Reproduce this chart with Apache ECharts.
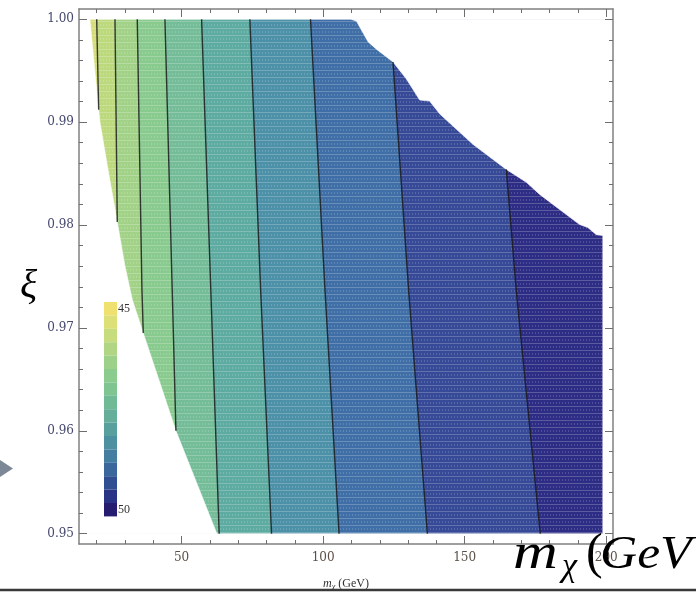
<!DOCTYPE html>
<html>
<head>
<meta charset="utf-8">
<title>xi vs m_chi</title>
<script src="https://cdn.jsdelivr.net/npm/echarts@6.0.0/dist/echarts.min.js"></script>
<style>
  html, body { margin: 0; padding: 0; background: #fff; }
  #chart { width: 696px; height: 593px; }
</style>
</head>
<body>
<div id="chart"></div>
<script>
// axis ranges and ticks (Mathematica frame, ticks on all four sides)
const xRange = [13.75, 202.4]
const yRange = [0.949, 1.001]
const xMajorTicks = [50, 100, 150, 200]
const xMinorTicks = [20, 30, 40, 60, 70, 80, 90, 110, 120, 130, 140, 160, 170, 180, 190]
const yMajorTicks = [0.95, 0.96, 0.97, 0.98, 0.99, 1.0]
const yMinorTicks = [0.952, 0.954, 0.956, 0.958, 0.962, 0.964, 0.966, 0.968, 0.972, 0.974,
  0.976, 0.978, 0.982, 0.984, 0.986, 0.988, 0.992, 0.994, 0.996, 0.998]

// edge of the computed region, [m, xi]
const topXi = 1.0
const bottomXi = 0.95
const leftEdge = [[17.6, 1.0], [19.15, 0.9955], [21.16, 0.99], [23.74, 0.9858], [27.27, 0.9803],
  [29.99, 0.976], [32.63, 0.9727], [36.45, 0.9695], [47.99, 0.96], [62.46, 0.95]]
const topRightEdge = [[110.0, 1.0], [111.8, 0.9998], [115.9, 0.9978], [118.8, 0.9971], [124.7, 0.99585],
  [129.4, 0.9942], [134.1, 0.99215], [137.6, 0.99205], [141.2, 0.9908], [152.9, 0.98785],
  [164.7, 0.98541], [171.8, 0.98415], [176.5, 0.98298], [181.2, 0.982], [190.6, 0.98005],
  [193.5, 0.97976], [196.5, 0.97907], [198.8, 0.97898]]

// contour lines, left to right
const contours = [
  [[20.0, 1.0], [20.7, 0.9912]],
  [[26.46, 1.0], [27.27, 0.9803]],
  [[34.33, 1.0], [35.99, 0.9737], [36.45, 0.9695]],
  [[44.11, 1.0], [46.68, 0.9737], [47.99, 0.96]],
  [[57.06, 1.0], [60.31, 0.9737], [63.27, 0.95]],
  [[74.11, 1.0], [77.92, 0.9737], [81.77, 0.95]],
  [[95.53, 1.0], [100.65, 0.9737], [105.62, 0.95]],
  [[124.68, 0.99585], [130.19, 0.9737], [136.83, 0.95]],
  [[164.71, 0.98541], [168.2, 0.9737], [176.71, 0.95]],
]
const bandColors = ['#d6dc78', '#bdd97e', '#a2d287', '#89ca8f', '#74bd98',
  '#5eaba1', '#4d91a9', '#3f6fa6', '#364a98', '#2e2d86']

// legend bar
const legendRange = [45, 50]
const legendColors = ['#efe070', '#dce076', '#c7dc7c', '#b1d683', '#9dd089', '#8ccb8e', '#7ec592', '#70bb96',
  '#64ae9a', '#58a09e', '#4d90a0', '#447ea0', '#3a689c', '#304e92', '#2a3486', '#261c70']

const chart = echarts.init(document.getElementById('chart'))

// each band covers everything right of its contour; later bands paint over earlier ones
const bands = [[[xRange[0], yRange[0]], [xRange[0], yRange[1]], [xRange[1], yRange[1]], [xRange[1], yRange[0]]]]
contours.forEach((c) => {
  const first = c[0]
  const last = c[c.length - 1]
  bands.push([[first[0], yRange[1]], ...c, [last[0], yRange[0]], [xRange[1], yRange[0]], [xRange[1], yRange[1]]])
})

// white masks outside the computed region
const lastRight = topRightEdge[topRightEdge.length - 1]
const masks = [
  [[xRange[0], topXi], [xRange[0], yRange[1]], [xRange[1], yRange[1]], [xRange[1], topXi]],
  [[xRange[0], yRange[0]], [xRange[0], bottomXi], [xRange[1], bottomXi], [xRange[1], yRange[0]]],
  [[xRange[0], topXi], ...leftEdge, [xRange[0], bottomXi]],
  [...topRightEdge, [lastRight[0], bottomXi], [xRange[1], bottomXi], [xRange[1], topXi]],
]
const region = [...leftEdge, [lastRight[0], bottomXi], ...topRightEdge.slice().reverse()]

// faint raster texture like the rasterised plot
const tex = document.createElement('canvas')
tex.width = 3
tex.height = 7
const tctx = tex.getContext('2d')
tctx.fillStyle = 'rgba(255,255,255,0.22)'
tctx.fillRect(0, 0, 3, 1)
tctx.fillStyle = 'rgba(255,255,255,0.16)'
tctx.fillRect(1, 3, 1, 2)

const polygonItem = (shapes, fills) => (params, api) => ({
  type: 'polygon',
  shape: { points: shapes[params.dataIndex].map((p) => api.coord(p)) },
  style: { fill: fills[params.dataIndex], stroke: fills[params.dataIndex], lineWidth: 0.6 },
})

const frameLine = { show: true, lineStyle: { color: '#808080', width: 1.5 } }
const makeAxis = (position, range, ticks, tickLen, opts) => ({
  type: 'value',
  position,
  min: range[0],
  max: range[1],
  z: 10,
  axisLine: opts.line ? frameLine : { show: false },
  axisTick: {
    show: true, inside: true, length: tickLen, customValues: ticks,
    lineStyle: { color: '#6e6e6e', width: 1 },
  },
  axisLabel: opts.label ? {
    show: true,
    customValues: ticks,
    margin: opts.margin,
    color: opts.color,
    fontFamily: 'DejaVu Serif',
    fontSize: 12,
    formatter: opts.fmt,
  } : { show: false },
  splitLine: { show: false },
  axisPointer: { show: false },
})

const legendStep = (legendRange[1] - legendRange[0]) / legendColors.length

const option = {
  animation: false,
  backgroundColor: '#fff',
  grid: { left: 79, right: 83, top: 9, bottom: 49, outerBoundsMode: 'none' },
  xAxis: [
    {
      ...makeAxis('bottom', xRange, xMajorTicks, 8, { line: true, label: true, margin: 8, color: '#5a5046', fmt: (v) => `${v}` }),
      name: '{m|m}{s|χ} (GeV)',
      nameLocation: 'middle',
      nameGap: 33,
      nameTextStyle: {
        color: '#333',
        fontFamily: 'Liberation Serif',
        fontSize: 12,
        rich: {
          m: { fontFamily: 'Liberation Serif', fontStyle: 'italic', fontSize: 12, color: '#333' },
          s: { fontFamily: 'Liberation Serif', fontStyle: 'italic', fontSize: 8, color: '#333', padding: [6, 0, 0, 0] },
        },
      },
    },
    makeAxis('bottom', xRange, xMinorTicks, 4, {}),
    makeAxis('top', xRange, xMajorTicks, 8, { line: true }),
    makeAxis('top', xRange, xMinorTicks, 4, {}),
  ],
  yAxis: [
    makeAxis('left', yRange, yMajorTicks, 8, { line: true, label: true, margin: 5, color: '#45486e', fmt: (v) => v.toFixed(2) }),
    makeAxis('left', yRange, yMinorTicks, 4, {}),
    makeAxis('right', yRange, yMajorTicks, 8, { line: true }),
    makeAxis('right', yRange, yMinorTicks, 4, {}),
  ],
  visualMap: {
    type: 'piecewise',
    seriesIndex: [],
    orient: 'vertical',
    inverse: true,
    left: 104,
    top: 302,
    padding: 0,
    itemWidth: 13,
    itemHeight: 13.4,
    itemGap: 0,
    itemSymbol: 'rect',
    textGap: 1,
    selectedMode: false,
    hoverLink: false,
    z: 12,
    textStyle: { fontFamily: 'Liberation Serif', fontSize: 12, color: '#333' },
    pieces: legendColors.map((color, i) => ({
      min: legendRange[0] + i * legendStep,
      max: legendRange[0] + (i + 1) * legendStep,
      color,
      label: i === 0 ? `${legendRange[0]}` : (i === legendColors.length - 1 ? `${legendRange[1]}` : ' '),
    })),
  },
  series: [
    {
      type: 'custom',
      name: 'bands',
      coordinateSystem: 'cartesian2d',
      clip: true,
      z: 1,
      silent: true,
      renderItem: polygonItem(bands, bandColors),
      data: bands.map((b, i) => [i]),
    },
    {
      type: 'custom',
      name: 'mask',
      coordinateSystem: 'cartesian2d',
      clip: true,
      z: 2,
      silent: true,
      renderItem: polygonItem(masks, masks.map(() => '#ffffff')),
      data: masks.map((b, i) => [i]),
    },
    {
      type: 'custom',
      name: 'texture',
      coordinateSystem: 'cartesian2d',
      clip: true,
      z: 2,
      silent: true,
      renderItem: (params, api) => ({
        type: 'polygon',
        shape: { points: region.map((p) => api.coord(p)) },
        style: { fill: { image: tex, repeat: 'repeat' } },
      }),
      data: [[0]],
    },
    ...contours.map((c) => ({
      type: 'line',
      data: c,
      z: 3,
      silent: true,
      showSymbol: false,
      lineStyle: { color: '#1c1c1c', width: 1.4, opacity: 0.85 },
    })),
  ],
  graphic: [
    { type: 'polygon', z: 20, shape: { points: [[0, 460], [13, 468.5], [0, 477]] }, style: { fill: '#7d8896' } },
    { type: 'line', z: 20, shape: { x1: 0, y1: 590, x2: 696, y2: 590 }, style: { stroke: '#3a3a3a', lineWidth: 2.5 } },
    { type: 'text', z: 20, x: 20, y: 286, style: { text: 'ξ', font: 'italic 40px "Liberation Serif"', fill: '#000', verticalAlign: 'middle' } },
    { type: 'text', z: 20, x: 513, y: 555, scaleX: 1.24, style: { text: 'm', font: 'italic 50px "Liberation Serif"', fill: '#000', verticalAlign: 'middle' } },
    { type: 'text', z: 20, x: 562, y: 567, style: { text: 'χ', font: 'italic 34px "Liberation Serif"', fill: '#000', verticalAlign: 'middle' } },
    { type: 'text', z: 20, x: 586, y: 555, style: { text: '(', font: '50px "Liberation Serif"', fill: '#000', verticalAlign: 'middle' } },
    { type: 'text', z: 20, x: 600, y: 556, scaleX: 1.12, style: { text: 'GeV', font: 'italic 46px "Liberation Serif"', fill: '#000', verticalAlign: 'middle' } },
  ],
}

chart.setOption(option)
</script>
</body>
</html>
